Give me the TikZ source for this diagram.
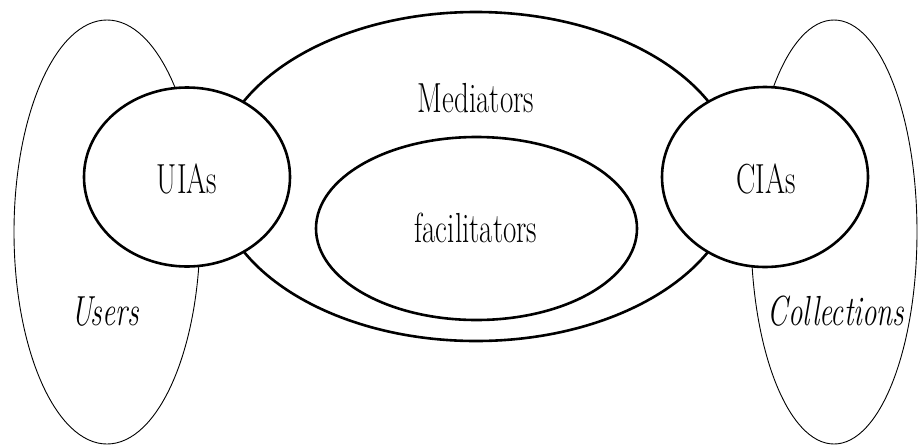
\documentclass[tikz,border=0pt]{standalone}
\usetikzlibrary{shapes.geometric}
\begin{document}
\begin{tikzpicture}[x=1pt,y=-1pt,
  ring/.style={shape=ellipse, inner sep=0pt, outer sep=0pt},
  thinring/.style={ring, draw=black, line width=0.9pt},
  thickring/.style={ring, draw=black, line width=2.6pt},
  agent/.style={thickring, fill=white},
  lbl/.style={inner sep=0pt, anchor=base},
]
\newcommand\tallword[1]{\scalebox{1}[1.45]{\fontsize{29}{29}\selectfont #1}}
\useasboundingbox (0,0) rectangle (918,445);

% outer groups: users and collections
\node[thinring, minimum width=186pt, minimum height=424pt] (users) at (107,232) {};
\node[thinring, minimum width=166pt, minimum height=424pt] (collections) at (834,232) {};

% mediator layer with the facilitators inside
\node[thickring, minimum width=522pt, minimum height=329pt] (mediators) at (476,176.5) {};
\node[thickring, minimum width=321pt, minimum height=183pt] (facilitators) at (476.5,228.5) {};

% interface agents, drawn on top
\node[agent, minimum width=206pt, minimum height=179pt] (uias) at (187,177) {};
\node[agent, minimum width=206pt, minimum height=180pt] (cias) at (765,177) {};

% labels
\node[lbl] (mediatorsText) at (476,112) {\tallword{Mediators}};
\node[lbl] (facilitatorsText) at (476,242) {\tallword{facilitators}};
\node[lbl] (uiasText) at (187,193) {\tallword{UIAs}};
\node[lbl] (ciasText) at (766,193) {\tallword{CIAs}};
\node[lbl] (usersText) at (105,325) {\tallword{\itshape Users}};
\node[lbl] (collectionsText) at (836,325) {\tallword{\itshape Collections}};
\end{tikzpicture}
\end{document}
